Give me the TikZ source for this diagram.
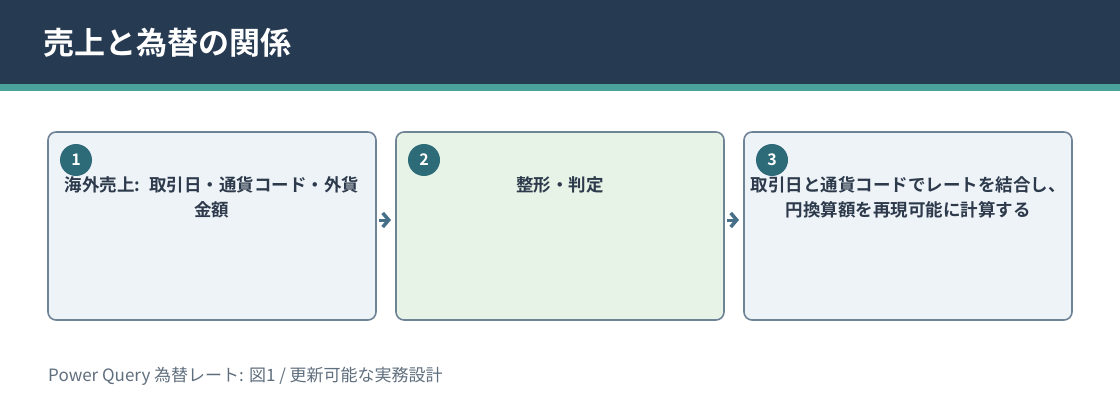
\documentclass[tikz,border=0pt]{standalone}
\usepackage{fontspec}
\setmainfont{Noto Sans CJK JP}[BoldFont={Noto Sans CJK JP Bold}]
\usepackage{tikz}
\usetikzlibrary{arrows.meta, positioning}
\definecolor{headbg}{HTML}{263A52}
\definecolor{headline}{HTML}{4AA39A}
\definecolor{boxborder}{HTML}{6E8496}
\definecolor{boxfill}{HTML}{EEF3F8}
\definecolor{boxgreen}{HTML}{E8F3E8}
\definecolor{badgefill}{HTML}{2E6B78}
\definecolor{steptxt}{HTML}{2D3A4B}
\definecolor{notetxt}{HTML}{5F6E7D}
\definecolor{arrowcol}{HTML}{46708A}
\tikzstyle{stepbox} = [rectangle, rounded corners=8pt, minimum width=328pt, minimum height=188pt,
                       outer sep=0pt, draw=boxborder, line width=1.6pt, fill=boxfill]
\tikzstyle{badge} = [circle, minimum size=32pt, inner sep=0pt, fill=badgefill, text=white,
                     font=\fontsize{16pt}{16pt}\selectfont\bfseries]
\tikzstyle{steptext} = [inner sep=0pt, text width=328pt, align=center, text=steptxt,
                        font=\fontsize{17.5pt}{25pt}\selectfont\bfseries]
\tikzset{flowarrow/.style={draw=arrowcol, line width=3pt, line cap=butt,
                           -{Straight Barb[length=6pt, width=14pt, line width=3.5pt, line join=miter]}}}

\begin{document}
\begin{tikzpicture}[x=1pt, y=-1pt, node distance=20pt]
    \useasboundingbox (0,0) rectangle (1120,420);
    % Header
    \fill[headbg] (0,0) rectangle (1120,84);
    \fill[headline] (0,84) rectangle (1120,91);
    \node[anchor=west, inner sep=0pt, text=white, font=\fontsize{31pt}{31pt}\selectfont\bfseries]
        (title) at (43,43) {売上と為替の関係};

    % Steps
    \node[stepbox, anchor=north west] (box1) at (48,132) {};
    \node[stepbox, fill=boxgreen, right=of box1] (box2) {};
    \node[stepbox, right=of box2] (box3) {};

    \node[badge] (num1) at ([xshift=28pt, yshift=-28pt]box1.north west) {1};
    \node[badge] (num2) at ([xshift=28pt, yshift=-28pt]box2.north west) {2};
    \node[badge] (num3) at ([xshift=28pt, yshift=-28pt]box3.north west) {3};

    \node[steptext, below=44pt of box1.north] (txt1) {海外売上: 取引日・通貨コード・外貨\\金額};
    \node[steptext, below=44pt of box2.north] (txt2) {整形・判定};
    \node[steptext, below=44pt of box3.north] (txt3) {取引日と通貨コードでレートを結合し、\\円換算額を再現可能に計算する};

    % Arrows
    \draw[flowarrow] ([xshift=3pt, yshift=6pt]box1.east) -- ([xshift=-5pt, yshift=6pt]box2.west);
    \draw[flowarrow] ([xshift=3pt, yshift=6pt]box2.east) -- ([xshift=-5pt, yshift=6pt]box3.west);

    % Caption
    \node[anchor=west, inner sep=0pt, text=notetxt, font=\fontsize{17pt}{17pt}\selectfont]
        (note) at (48,376) {Power Query 為替レート: 図1 / 更新可能な実務設計};
\end{tikzpicture}
\end{document}
